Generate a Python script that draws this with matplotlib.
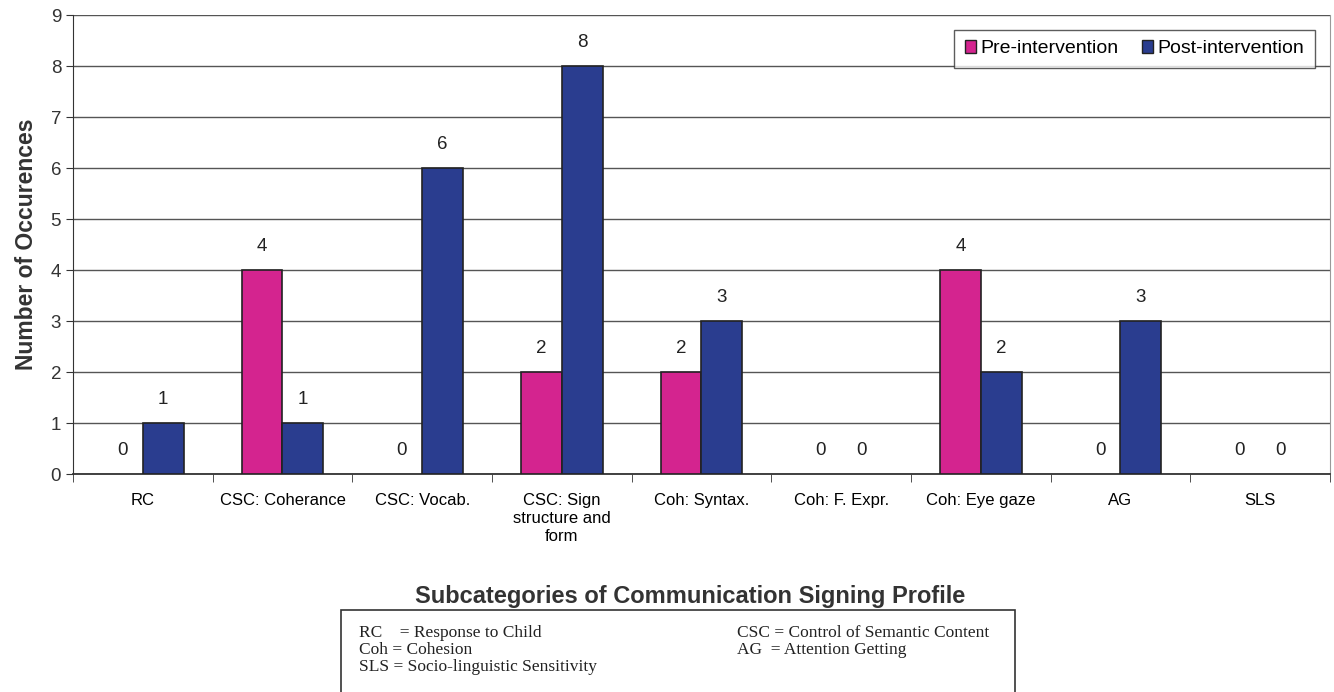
import numpy as np
import matplotlib.pyplot as plt
from matplotlib.patches import Rectangle

# Kategorije i vrijednosti
categories = ["RC", "CSC: Coherance", "CSC: Vocab.", "CSC: Sign\nstructure and\nform",
              "Coh: Syntax.", "Coh: F. Expr.", "Coh: Eye gaze", "AG", "SLS"]
pre = [0, 4, 0, 2, 2, 0, 4, 0, 0]
post = [1, 1, 6, 8, 3, 0, 2, 3, 0]

pink = "#d4248f"
navy = "#2a3d8f"

plt.rcParams['font.family'] = ['Liberation Sans', 'DejaVu Sans']

fig = plt.figure(figsize=(13.34, 6.92), dpi=100)
ax = fig.add_axes([0.0547, 0.315, 0.9423, 0.663])

x = np.arange(len(categories))
w = 0.293

b1 = ax.bar(x - w/2, pre, w, color=pink, edgecolor="#222222", linewidth=1.2,
            label="Pre-intervention", zorder=3)
b2 = ax.bar(x + w/2, post, w, color=navy, edgecolor="#222222", linewidth=1.2,
            label="Post-intervention", zorder=3)

# oznake vrijednosti iznad stupaca
for bars, vals in [(b1, pre), (b2, post)]:
    for b, v in zip(bars, vals):
        if v == 0:
            b.set_edgecolor("none")
        ax.annotate(str(v), (b.get_x() + b.get_width()/2, v),
                    xytext=(0, 11), textcoords="offset points",
                    ha="center", va="bottom", fontsize=13.5, color="#222222")

ax.set_xlim(-0.5, len(categories) - 0.5)
ax.set_ylim(0, 9)
ax.set_yticks(range(10))
ax.tick_params(axis="y", labelsize=13.5, length=5, direction="out", colors="#333333")
ax.set_xticks(x)
ax.set_xticklabels(categories, fontsize=12, linespacing=1.25)
ax.tick_params(axis="x", length=0, pad=14)
# crtice između kategorija
ax.set_xticks(np.arange(len(categories) + 1) - 0.5, minor=True)
ax.tick_params(axis="x", which="minor", length=6, color="#333333")

ax.yaxis.grid(True, color="#555555", linewidth=1.0, zorder=0)
ax.spines["top"].set_visible(False)
ax.spines["right"].set_color("#999999")
ax.spines["left"].set_color("#333333")
ax.spines["bottom"].set_color("#333333")
ax.spines["bottom"].set_linewidth(1.3)

ax.set_ylabel("Number of Occurences", fontsize=16.5, fontweight="bold",
              color="#333333", labelpad=9)
fig.text(690/1334, 1 - 597/692, "Subcategories of Communication Signing Profile",
         fontsize=17, fontweight="bold", color="#333333", ha="center", va="center")

leg = ax.legend(loc="upper right", bbox_to_anchor=(0.9955, 0.99), ncol=2,
                fontsize=14, frameon=True, fancybox=False, handlelength=0.6,
                handleheight=0.6, handletextpad=0.2, columnspacing=1.2,
                borderpad=0.55, edgecolor="#333333")
leg.get_frame().set_linewidth(1.0)
for h in leg.legend_handles:
    h.set_edgecolor("#222222")
    h.set_linewidth(1.0)

# okvir s kraticama
fig.patches.append(Rectangle((341/1334, 1 - 700/692), (1015 - 341)/1334, (700 - 610)/692,
                             transform=fig.transFigure, fill=False,
                             edgecolor="#333333", linewidth=1.2))
serif = ['Liberation Serif', 'DejaVu Serif']
left_lines = ["RC    = Response to Child", "Coh = Cohesion",
              "SLS = Socio-linguistic Sensitivity"]
right_lines = ["CSC = Control of Semantic Content", "AG  = Attention Getting"]
ys = [633, 650, 667]
for t, yy in zip(left_lines, ys):
    fig.text(359/1334, 1 - yy/692, t, family=serif, fontsize=12.5,
             va="center", ha="left", color="#222222")
for t, yy in zip(right_lines, ys):
    fig.text(737/1334, 1 - yy/692, t, family=serif, fontsize=12.5,
             va="center", ha="left", color="#222222")

fig.savefig("out.png", dpi=100)
